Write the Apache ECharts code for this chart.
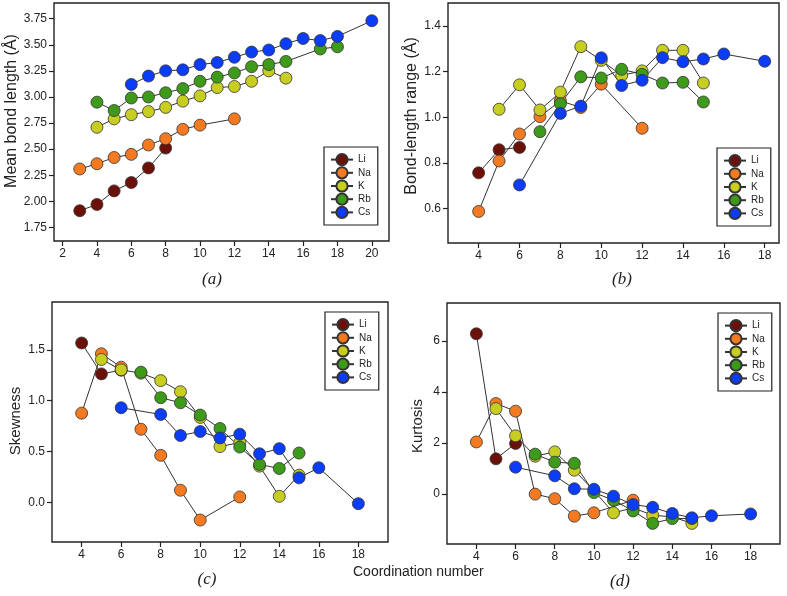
<!DOCTYPE html>
<html>
<head>
<meta charset="utf-8">
<script src="https://cdn.jsdelivr.net/npm/echarts@6/dist/echarts.min.js"></script>
<style>
  html, body { margin: 0; padding: 0; background: #fff; }
  #main { width: 787px; height: 596px; }
</style>
</head>
<body>
<div id="main"></div>
<script>
// element names and marker colours
const elements = ['Li', 'Na', 'K', 'Rb', 'Cs'];
const colors = ['#6b1109', '#f47a22', '#c8cd22', '#3d9a1a', '#0b3cf7'];

// panel (a): coordination numbers and mean bond length
const cnMean = [
  [3, 4, 5, 6, 7, 8],
  [3, 4, 5, 6, 7, 8, 9, 10, 12],
  [4, 5, 6, 7, 8, 9, 10, 11, 12, 13, 14, 15],
  [4, 5, 6, 7, 8, 9, 10, 11, 12, 13, 14, 15, 17, 18],
  [6, 7, 8, 9, 10, 11, 12, 13, 14, 15, 16, 17, 18, 20]
];
const meanBond = [
  [1.91, 1.97, 2.10, 2.18, 2.32, 2.51],
  [2.31, 2.36, 2.42, 2.45, 2.54, 2.60, 2.69, 2.73, 2.79],
  [2.71, 2.79, 2.83, 2.86, 2.90, 2.96, 3.01, 3.09, 3.10, 3.15, 3.25, 3.18],
  [2.95, 2.87, 2.99, 3.00, 3.04, 3.08, 3.15, 3.19, 3.23, 3.29, 3.31, 3.34, 3.46, 3.48],
  [3.12, 3.20, 3.25, 3.26, 3.31, 3.33, 3.38, 3.43, 3.45, 3.51, 3.56, 3.54, 3.58, 3.73]
];

// panels (b)-(d): coordination numbers
const cnOther = [
  [4, 5, 6],
  [4, 5, 6, 7, 8, 9, 10, 12],
  [5, 6, 7, 8, 9, 10, 11, 12, 13, 14, 15],
  [7, 8, 9, 10, 11, 12, 13, 14, 15],
  [6, 8, 9, 10, 11, 12, 13, 14, 15, 16, 18]
];
const bondRange = [
  [0.757, 0.858, 0.868],
  [0.588, 0.809, 0.927, 1.003, 1.072, 1.043, 1.145, 0.952],
  [1.035, 1.142, 1.032, 1.110, 1.309, 1.249, 1.183, 1.203, 1.293, 1.293, 1.150],
  [0.937, 1.059, 1.177, 1.172, 1.210, 1.188, 1.150, 1.153, 1.067],
  [0.704, 1.017, 1.049, 1.260, 1.139, 1.162, 1.261, 1.243, 1.255, 1.277, 1.245]
];
const skewness = [
  [1.567, 1.263, 1.300],
  [0.877, 1.461, 1.329, 0.719, 0.462, 0.119, -0.174, 0.053],
  [1.405, 1.303, 1.270, 1.197, 1.088, 0.835, 0.548, 0.588, 0.356, 0.059, 0.267],
  [1.280, 1.029, 0.979, 0.858, 0.726, 0.544, 0.373, 0.333, 0.485],
  [0.930, 0.864, 0.657, 0.696, 0.633, 0.670, 0.478, 0.528, 0.241, 0.340, -0.013]
];
const kurtosis = [
  [6.29, 1.375, 1.98],
  [2.04, 3.55, 3.25, -0.01, -0.19, -0.876, -0.745, -0.25],
  [3.35, 2.28, 1.48, 1.65, 0.93, 0.12, -0.745, -0.55, -0.84, -0.90, -1.16],
  [1.56, 1.245, 1.20, 0.05, -0.25, -0.67, -1.16, -0.97, -0.97],
  [1.05, 0.71, 0.20, 0.18, -0.09, -0.42, -0.53, -0.77, -0.94, -0.86, -0.79]
];

// tick labels
const xTicksA = [2, 4, 6, 8, 10, 12, 14, 16, 18, 20];
const xTicksOther = [4, 6, 8, 10, 12, 14, 16, 18];
const yTicksA = [1.75, 2.00, 2.25, 2.50, 2.75, 3.00, 3.25, 3.50, 3.75];
const yTicksB = [0.6, 0.8, 1.0, 1.2, 1.4];
const yTicksC = [0.0, 0.5, 1.0, 1.5];
const yTicksD = [0, 2, 4, 6];

// axis titles
const yTitles = ['Mean bond length (Å)', 'Bond-length range (Å)', 'Skewness', 'Kurtosis'];
const xTitle = 'Coordination number';
const panelLetters = ['(a)', '(b)', '(c)', '(d)'];

const chart = echarts.init(document.getElementById('main'), null, { renderer: 'canvas' });

const font = 'Arial, "Liberation Sans", sans-serif';
const serif = '"Liberation Serif", "DejaVu Serif", serif';
const ink = '#222';

// 4 panels, left/top/width/height in px
const grids = [
  { left: 54, top: 3, width: 335, height: 238 },
  { left: 448, top: 3, width: 331, height: 240 },
  { left: 52, top: 302, width: 336, height: 240 },
  { left: 447, top: 303, width: 333, height: 241 }
].map(g => Object.assign(g, { show: true, borderColor: ink, borderWidth: 1.4, backgroundColor: 'transparent' }));

function xAxisFor(idx, min, max, ticks) {
  return {
    type: 'value', gridIndex: idx, min: min, max: max,
    axisLine: { show: false, onZero: false },
    splitLine: { show: false },
    axisTick: { show: true, length: 5, customValues: ticks, lineStyle: { color: ink, width: 1.2 } },
    axisLabel: { customValues: ticks, margin: 7, color: ink, fontSize: 12, fontFamily: font }
  };
}

function yAxisFor(idx, min, max, ticks, digits) {
  return {
    type: 'value', gridIndex: idx, min: min, max: max,
    axisLine: { show: false, onZero: false },
    splitLine: { show: false },
    axisTick: { show: true, length: 5, customValues: ticks, lineStyle: { color: ink, width: 1.2 } },
    axisLabel: {
      customValues: ticks, margin: 7, color: ink, fontSize: 12, fontFamily: font,
      formatter: v => digits == null ? String(v) : v.toFixed(digits)
    }
  };
}

const xAxes = [
  xAxisFor(0, 1.5, 21, xTicksA),
  xAxisFor(1, 2.5, 18.7, xTicksOther),
  xAxisFor(2, 2.5, 19.5, xTicksOther),
  xAxisFor(3, 2.5, 19.5, xTicksOther)
];
const yAxes = [
  yAxisFor(0, 1.62, 3.9, yTicksA, 2),
  yAxisFor(1, 0.45, 1.5, yTicksB, 1),
  yAxisFor(2, -0.39, 1.97, yTicksC, 1),
  yAxisFor(3, -1.97, 7.5, yTicksD, null)
];

// build the line series for every panel
const panels = [
  { cn: cnMean, vals: meanBond },
  { cn: cnOther, vals: bondRange },
  { cn: cnOther, vals: skewness },
  { cn: cnOther, vals: kurtosis }
];
let series = [];
panels.forEach((p, pi) => {
  elements.forEach((el, ei) => {
    series.push({
      name: el,
      type: 'line',
      xAxisIndex: pi,
      yAxisIndex: pi,
      data: p.cn[ei].map((c, k) => [c, p.vals[ei][k]]),
      symbol: 'circle',
      symbolSize: 12,
      showAllSymbol: true,
      lineStyle: { color: '#333', width: 1 },
      itemStyle: { color: colors[ei], borderColor: '#333', borderWidth: 0.8 },
      emphasis: { disabled: true },
      animation: false
    });
  });
});

// one legend box per panel
const legendPos = [
  { left: 324, top: 147 },
  { left: 717, top: 148 },
  { left: 325, top: 312 },
  { left: 718, top: 313 }
];
const legends = legendPos.map(pos => ({
  data: elements,
  orient: 'vertical',
  left: pos.left, top: pos.top,
  itemWidth: 22, itemHeight: 14, itemGap: 0,
  padding: [6, 7, 6, 6],
  borderColor: ink, borderWidth: 1.2,
  backgroundColor: '#fff',
  textStyle: { fontSize: 10, color: ink, fontFamily: font },
  selectedMode: false
}));

// y titles (rotated), panel letters and the shared x title
const yTitlePos = [
  { x: 12, y: 111, size: 16 },
  { x: 412, y: 116, size: 16 },
  { x: 16, y: 421, size: 15 },
  { x: 418, y: 426, size: 15 }
];
const graphics = yTitles.map((t, i) => ({
  type: 'text', x: yTitlePos[i].x, y: yTitlePos[i].y, rotation: Math.PI / 2,
  style: { text: t, font: yTitlePos[i].size + 'px ' + font, fill: ink, align: 'center', verticalAlign: 'middle' }
}));
const letterPos = [[212, 280], [622, 280], [207, 580], [620, 582]];
panelLetters.forEach((t, i) => {
  graphics.push({
    type: 'text', x: letterPos[i][0], y: letterPos[i][1],
    style: { text: t, font: 'italic 17px ' + serif, fill: ink, align: 'center', verticalAlign: 'middle' }
  });
});
graphics.push({
  type: 'text', x: 353, y: 572,
  style: { text: xTitle, font: '14px ' + font, fill: ink, align: 'left', verticalAlign: 'middle' }
});

chart.setOption({
  backgroundColor: '#fff',
  animation: false,
  grid: grids,
  xAxis: xAxes,
  yAxis: yAxes,
  legend: legends,
  series: series,
  graphic: graphics
});
</script>
</body>
</html>
